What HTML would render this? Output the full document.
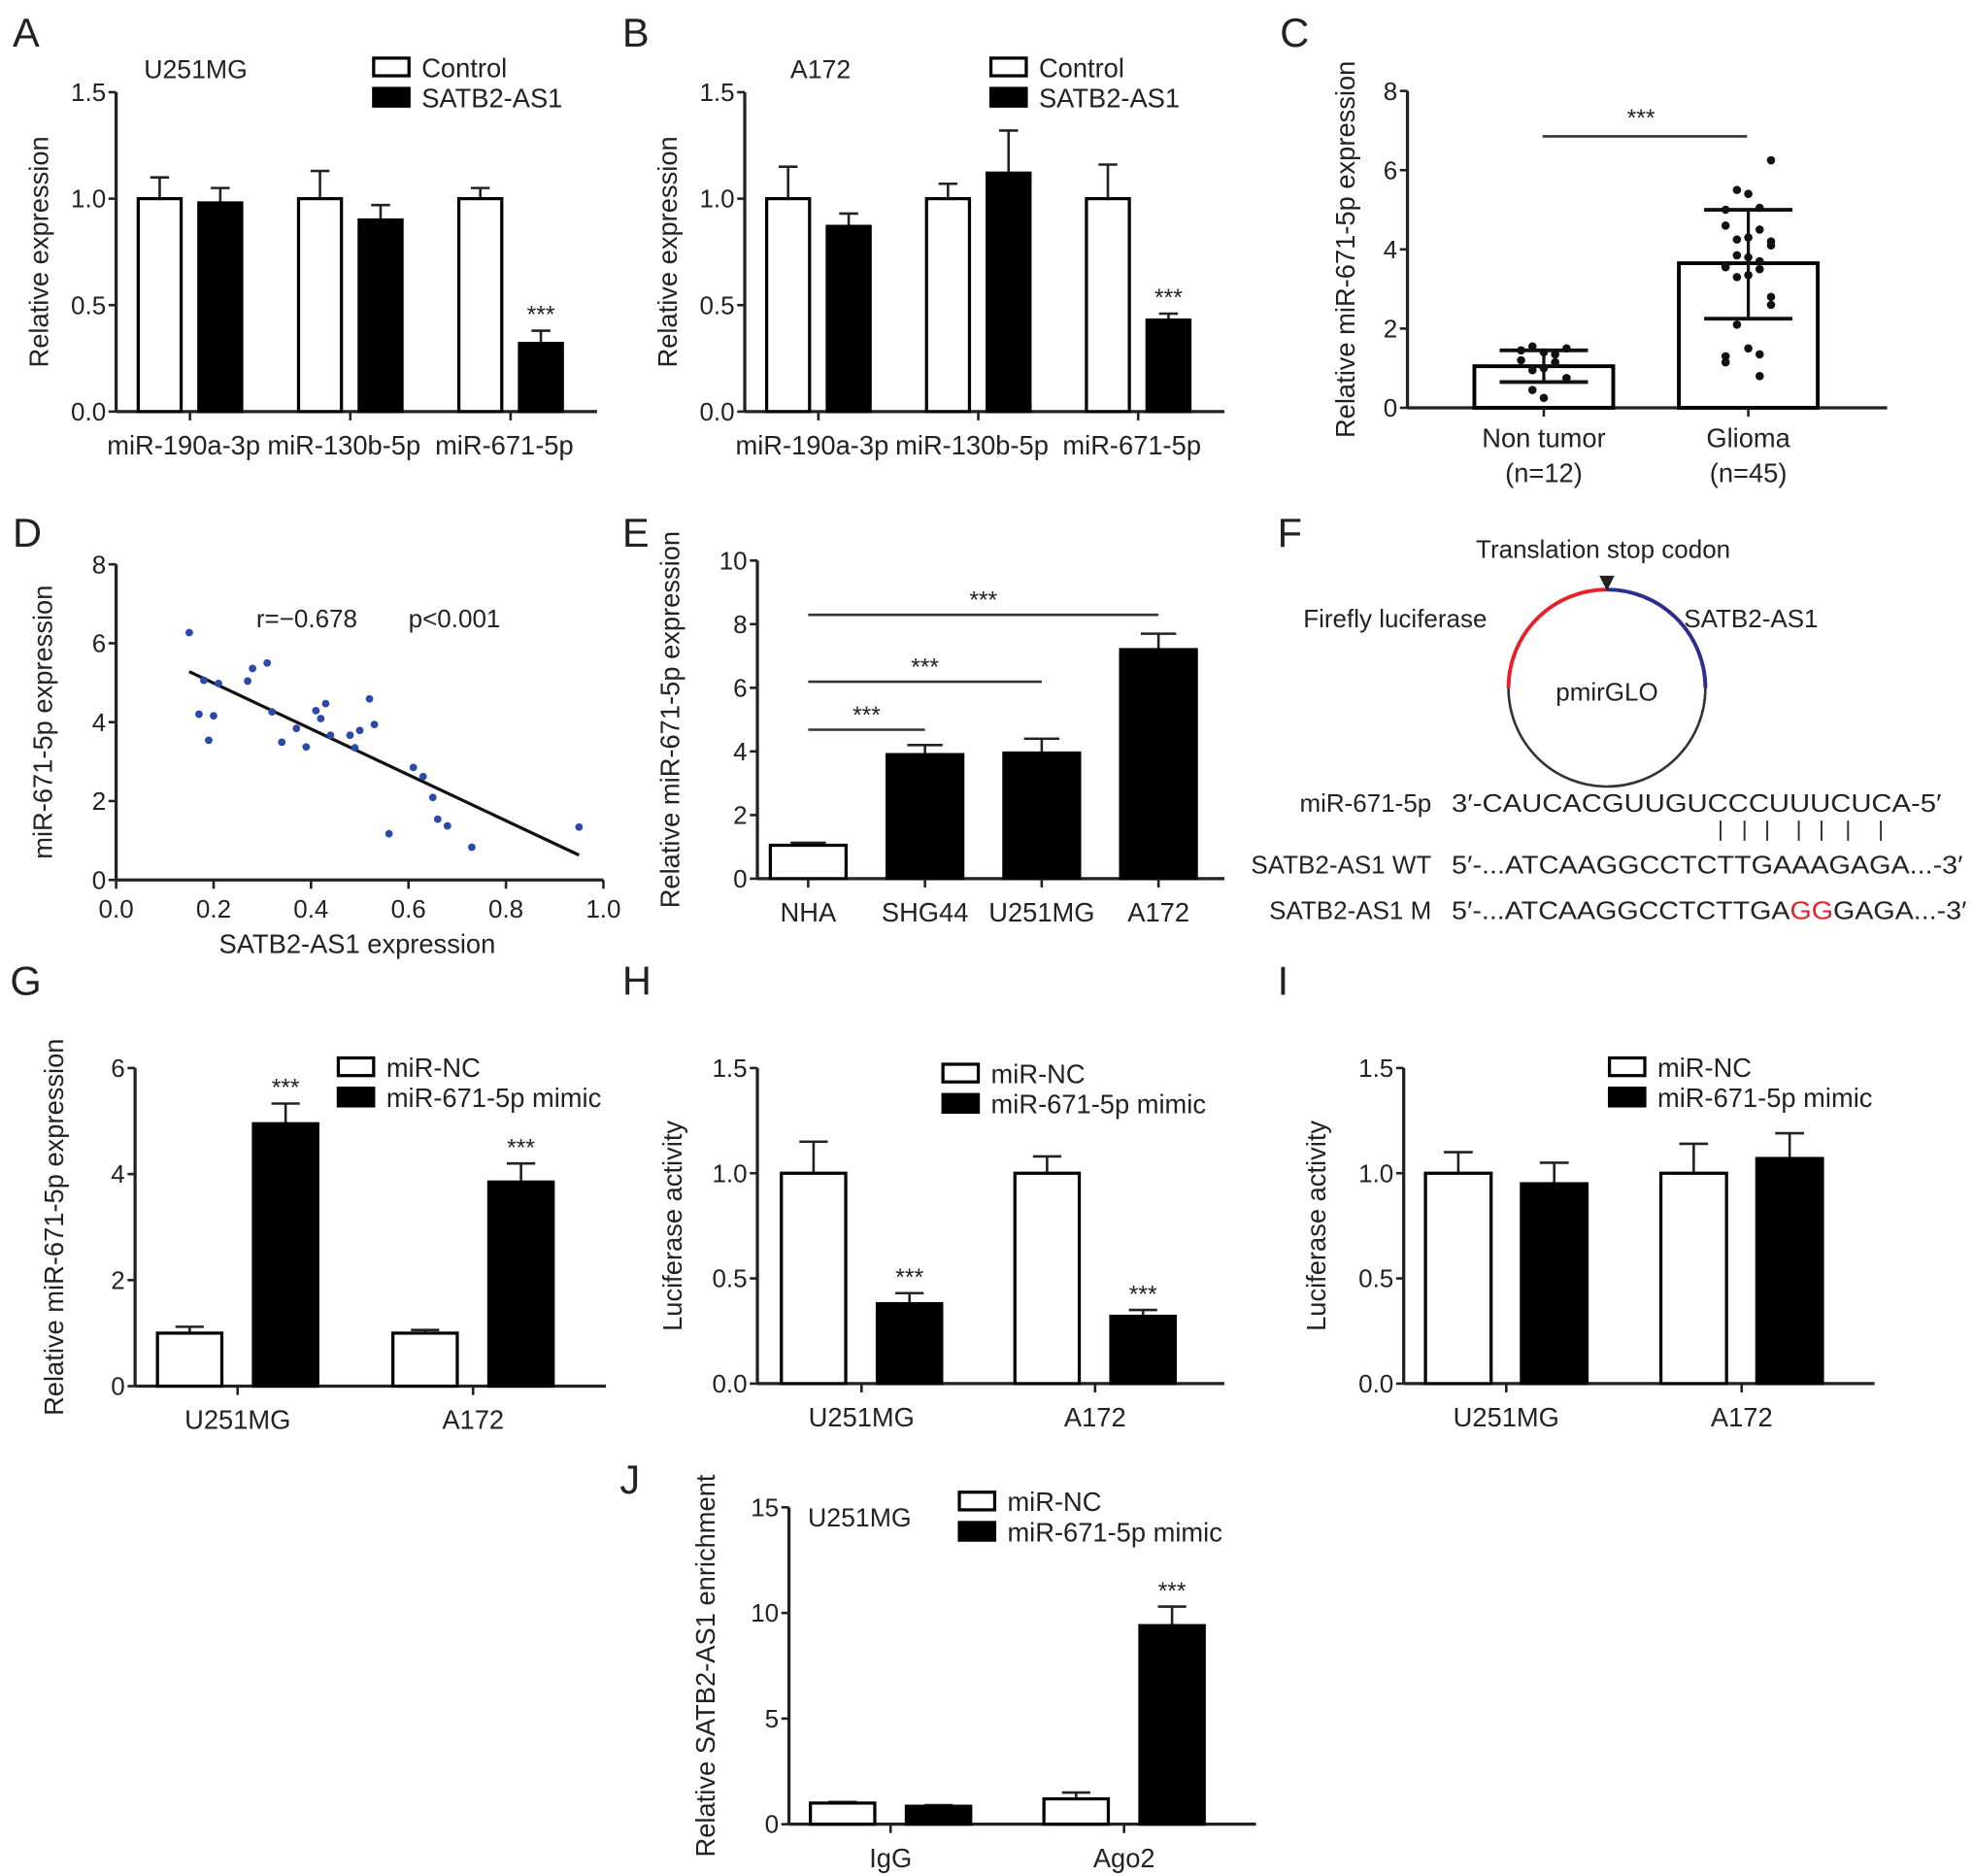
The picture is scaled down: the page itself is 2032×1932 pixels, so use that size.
<!DOCTYPE html>
<html><head><meta charset="utf-8"><style>
html,body{margin:0;padding:0;background:#fff;}
svg{display:block;font-family:"Liberation Sans",Arial,sans-serif;}
text{fill:#222;}
</style></head><body>
<svg id="fig" width="2032" height="1932" viewBox="0 0 1563 1486" xmlns="http://www.w3.org/2000/svg">
<g id="static" font-size="32">
<text x="10" y="37">A</text>
<text x="493" y="37">B</text>
<text x="1014" y="37">C</text>
<text x="10" y="433">D</text>
<text x="493" y="433">E</text>
<text x="1012" y="433">F</text>
<text x="8" y="788">G</text>
<text x="493" y="788">H</text>
<text x="1012" y="788">I</text>
<text x="491" y="1183">J</text>
</g>
<g id="panelF" font-size="20">
<text x="1270" y="442" text-anchor="middle">Translation stop codon</text>
<circle cx="1273" cy="545" r="78" fill="none" stroke="#333" stroke-width="2"/>
<path d="M1195 545 A78 78 0 0 1 1273 467" fill="none" stroke="#e8202a" stroke-width="3"/>
<path d="M1273 467 A78 78 0 0 1 1351 545" fill="none" stroke="#2b2e8f" stroke-width="3"/>
<path d="M1267 456 L1279 456 L1273 468 Z" fill="#222"/>
<text x="1178" y="497" text-anchor="end">Firefly luciferase</text>
<text x="1334" y="497">SATB2-AS1</text>
<text x="1273" y="555" text-anchor="middle">pmirGLO</text>
<text x="1134" y="643" text-anchor="end">miR-671-5p</text>
<text x="1150" y="643" textLength="388" lengthAdjust="spacingAndGlyphs">3′-CAUCACGUUGUCCCUUUCUCA-5′</text>
<g stroke="#333" stroke-width="1.5">
<line x1="1363" y1="650" x2="1363" y2="666"/><line x1="1382" y1="650" x2="1382" y2="666"/><line x1="1400" y1="650" x2="1400" y2="666"/><line x1="1425" y1="650" x2="1425" y2="666"/><line x1="1443" y1="650" x2="1443" y2="666"/><line x1="1464" y1="650" x2="1464" y2="666"/><line x1="1490" y1="650" x2="1490" y2="666"/>
</g>
<text x="1134" y="692" text-anchor="end">SATB2-AS1 WT</text>
<text x="1150" y="692" textLength="405" lengthAdjust="spacingAndGlyphs">5′-...ATCAAGGCCTCTTGAAAGAGA...-3′</text>
<text x="1134" y="728" text-anchor="end">SATB2-AS1 M</text>
<text x="1150" y="728" textLength="408" lengthAdjust="spacingAndGlyphs">5′-...ATCAAGGCCTCTTGA<tspan fill="#e8202a">GG</tspan>GAGA...-3′</text>
</g>
</svg>
<script>
// ---- data ----
const aCategories = ["miR-190a-3p","miR-130b-5p","miR-671-5p"];
const aControl = [1.0,1.0,1.0];
const aControlErr = [0.10,0.13,0.05];
const aSatb2 = [0.98,0.90,0.32];
const aSatb2Err = [0.07,0.07,0.06];
const aTicks = ["0.0","0.5","1.0","1.5"];
const bCategories = ["miR-190a-3p","miR-130b-5p","miR-671-5p"];
const bControl = [1.0,1.0,1.0];
const bControlErr = [0.15,0.07,0.16];
const bSatb2 = [0.87,1.12,0.43];
const bSatb2Err = [0.06,0.20,0.03];
const cCategories = ["Non tumor","Glioma"];
const cSub = ["(n=12)","(n=45)"];
const cMeans = [1.05,3.65];
const cLow = [0.65,2.25];
const cHigh = [1.45,5.0];
const cNonTumorDots = [1.5,1.55,1.4,1.35,1.45,1.2,1.15,1.0,0.95,0.75,0.75,0.45,0.25];
const cGliomaDots = [6.25,5.5,5.4,5.05,5.0,4.6,4.5,4.3,4.25,4.2,4.1,3.85,3.8,3.7,3.6,3.55,3.5,3.35,3.3,2.8,2.6,2.1,1.5,1.35,1.3,1.15,0.8];
const cTicks = ["0","2","4","6","8"];
const dX = [0.15,0.18,0.21,0.17,0.20,0.19,0.27,0.28,0.31,0.32,0.34,0.37,0.39,0.41,0.42,0.43,0.44,0.48,0.50,0.49,0.52,0.53,0.56,0.61,0.63,0.65,0.66,0.68,0.73,0.95];
const dY = [6.27,5.06,4.98,4.2,4.16,3.54,5.04,5.36,5.5,4.26,3.49,3.84,3.37,4.29,4.09,4.47,3.67,3.67,3.79,3.35,4.59,3.94,1.17,2.85,2.62,2.09,1.54,1.37,0.83,1.34];
const dFitX = [0.15,0.95];
const dFitY = [5.28,0.63];
const dXTicks = ["0.0","0.2","0.4","0.6","0.8","1.0"];
const dYTicks = ["0","2","4","6","8"];
const eCategories = ["NHA","SHG44","U251MG","A172"];
const eValues = [1.05,3.9,3.95,7.2];
const eErr = [0.08,0.3,0.45,0.5];
const eTicks = ["0","2","4","6","8","10"];
const gCategories = ["U251MG","A172"];
const gNC = [1.0,1.0];
const gNCErr = [0.12,0.06];
const gMimic = [4.95,3.85];
const gMimicErr = [0.38,0.35];
const gTicks = ["0","2","4","6"];
const hNC = [1.0,1.0];
const hNCErr = [0.15,0.08];
const hMimic = [0.38,0.32];
const hMimicErr = [0.05,0.03];
const iNC = [1.0,1.0];
const iNCErr = [0.10,0.14];
const iMimic = [0.95,1.07];
const iMimicErr = [0.10,0.12];
const lucTicks = ["0.0","0.5","1.0","1.5"];
const jCategories = ["IgG","Ago2"];
const jNC = [1.0,1.2];
const jNCErr = [0.05,0.3];
const jMimic = [0.85,9.4];
const jMimicErr = [0.05,0.9];
const jTicks = ["0","5","10","15"];

const NS="http://www.w3.org/2000/svg";
const svg=document.getElementById('fig');
function mk(tag,attrs,parent){const e=document.createElementNS(NS,tag);for(const k in attrs)e.setAttribute(k,attrs[k]);(parent||svg).appendChild(e);return e;}
function txt(s,x,y,size,anchor,parent,rot){const t=mk('text',{x:x,y:y,'font-size':size,'text-anchor':anchor||'middle'},parent);if(rot)t.setAttribute('transform','rotate(-90 '+x+' '+y+')');t.textContent=s;return t;}

function axes(g,c,ticks,title){
  const ys=v=>c.y0-(v/c.ymax)*(c.y0-c.yTop);
  const ax=mk('line',{x1:c.x0,y1:c.yTop,x2:c.x0,y2:c.y0,stroke:'#222','stroke-width':2.5},g);
  
  
  const bx=mk('line',{x1:c.x0,y1:c.y0,x2:c.x1,y2:c.y0,stroke:'#222','stroke-width':2.5},g);
  
  
  ticks.forEach(t=>{const v=parseFloat(t);const y=ys(v);
    mk('line',{x1:c.x0-6,y1:y,x2:c.x0,y2:y,stroke:'#222','stroke-width':2},g);
    const tl=txt(t,c.x0-8,y+7,20,'end',g);
    
    });
  const yt=txt(title,c.titleX,(c.yTop+c.y0)/2,21,'middle',g,true);
  
  
  return ys;
}
function errBar(g,x,y1,y2,w){mk('line',{x1:x,y1:y1,x2:x,y2:y2,stroke:'#222','stroke-width':2},g);mk('line',{x1:x-w,y1:y2,x2:x+w,y2:y2,stroke:'#222','stroke-width':2},g);}
function legend(g,x,y,labels,fs){
  labels.forEach((l,i)=>{const yy=y+i*24;
    const r=mk('rect',{x:x,y:yy-14,width:28,height:14,fill:i?'#000':'#fff',stroke:'#000','stroke-width':2.5},g);
    
    
    const t=txt(l,x+38,yy+1,fs||21,'start',g);
    
    });
}
function pairedChart(name,c,cats,s1,e1,s2,e2,ticks,title,stars){
  const g=mk('g',{});
  
  
  const ys=axes(g,c,ticks,title);
  const n=cats.length;const gw=(c.x1-c.x0)/n;
  cats.forEach((cat,i)=>{
    const cx=c.x0+gw*(i+0.5)+c.shift;
    mk('line',{x1:cx,y1:c.y0,x2:cx,y2:c.y0+7,stroke:'#222','stroke-width':2},g);
    [[s1,e1,'#fff',-1],[s2,e2,'#000',1]].forEach(([s,e,f,side])=>{
      const bxc=cx+side*c.off;const top=ys(s[i]);
      errBar(g,bxc,top,ys(s[i]+e[i]),c.bw*0.22);
      const r=mk('rect',{x:bxc-c.bw/2,y:top,width:c.bw,height:c.y0-top,fill:f,stroke:'#000','stroke-width':2.5},g);
      
      
      if(side>0&&stars[i]){const st=txt('***',bxc,ys(s[i]+e[i])-6,19,'middle',g);st.setAttribute('fill','#444');
        
        }
    });
    const lab=txt(cat,cx+c.labShift,c.y0+34,21,'middle',g);
    
    
  });
  return g;
}
// A
let g=pairedChart('panel-a-chart',{x0:92,x1:473,y0:326,yTop:73,ymax:1.5,off:24,bw:34,shift:-5,labShift:-5,titleX:38},aCategories,aControl,aControlErr,aSatb2,aSatb2Err,aTicks,'Relative expression',[0,0,1]);
txt('U251MG',155,62,20.5,'middle',g);legend(g,296,60,['Control','SATB2-AS1']);
// B
g=pairedChart('panel-b-chart',{x0:590,x1:970,y0:326,yTop:73,ymax:1.5,off:24,bw:34,shift:-5,labShift:-5,titleX:536},bCategories,bControl,bControlErr,bSatb2,bSatb2Err,aTicks,'Relative expression',[0,0,1]);
txt('A172',650,62,20.5,'middle',g);legend(g,785,60,['Control','SATB2-AS1']);
// G
g=pairedChart('panel-g-chart',{x0:107,x1:480,y0:1098,yTop:846,ymax:6,off:38,bw:51,shift:-12,labShift:0,titleX:50},gCategories,gNC,gNCErr,gMimic,gMimicErr,gTicks,'Relative miR-671-5p expression',[1,1]);
legend(g,268,852,['miR-NC','miR-671-5p mimic']);
// H
g=pairedChart('panel-h-chart',{x0:600,x1:970,y0:1096,yTop:846,ymax:1.5,off:38,bw:51,shift:-10,labShift:0,titleX:540},gCategories,hNC,hNCErr,hMimic,hMimicErr,lucTicks,'Luciferase activity',[1,1]);
legend(g,747,857,['miR-NC','miR-671-5p mimic']);
// I
g=pairedChart('panel-i-chart',{x0:1112,x1:1485,y0:1096,yTop:846,ymax:1.5,off:38,bw:52,shift:-12,labShift:0,titleX:1050},gCategories,iNC,iNCErr,iMimic,iMimicErr,lucTicks,'Luciferase activity',[0,0]);
legend(g,1275,852,['miR-NC','miR-671-5p mimic']);
// J
g=pairedChart('panel-j-chart',{x0:625,x1:995,y0:1445,yTop:1194,ymax:15,off:38,bw:51,shift:-12,labShift:0,titleX:566},jCategories,jNC,jNCErr,jMimic,jMimicErr,jTicks,'Relative SATB2-AS1 enrichment',[0,1]);
txt('U251MG',681,1209,20.5,'middle',g);legend(g,760,1196,['miR-NC','miR-671-5p mimic']);

// C
(function(){
  const c={x0:1115,x1:1495,y0:323,yTop:72,ymax:8,titleX:1073};
  const gc=mk('g',{});
  
  
  const ys=axes(gc,c,cTicks,'Relative miR-671-5p expression');
  const centers=[1223,1385];const bw=110;
  cCategories.forEach((cat,i)=>{const cx=centers[i];const top=ys(cMeans[i]);
    const r=mk('rect',{x:cx-bw/2,y:top,width:bw,height:c.y0-top,fill:'#fff',stroke:'#000','stroke-width':3},gc);
    
    
    mk('line',{x1:cx,y1:c.y0,x2:cx,y2:c.y0+7,stroke:'#222','stroke-width':2},gc);
    const l=txt(cat,cx,c.y0+31,21,'middle',gc);
    
    
    txt(cSub[i],cx,c.y0+59,21,'middle',gc);
  });
  [cNonTumorDots,cGliomaDots].forEach((arr,k)=>{const cx=centers[k];
    arr.forEach((v,j)=>{const dx=((j%5)-2)*9*(j%2?1:-1);
      const d=mk('circle',{cx:cx+dx,cy:ys(v),r:3.3,fill:'#111'},gc);
      
      });});
  centers.forEach((cx,i)=>{
    mk('line',{x1:cx,y1:ys(cLow[i]),x2:cx,y2:ys(cHigh[i]),stroke:'#111','stroke-width':2.5},gc);
    [cLow[i],cHigh[i]].forEach(v=>mk('line',{x1:cx-35,y1:ys(v),x2:cx+35,y2:ys(v),stroke:'#111','stroke-width':3},gc));
  });
  mk('line',{x1:1222,y1:108,x2:1384,y2:108,stroke:'#333','stroke-width':2},gc);
  const st=txt('***',1300,100,19,'middle',gc);st.setAttribute('fill','#444');
})();

// D
(function(){
  const x0=92,x1=478,y0=697,yTop=447;
  const gd=mk('g',{});
  
  
  const xs=v=>x0+v*(x1-x0);const ys=v=>y0-v/8*(y0-yTop);
  mk('line',{x1:x0,y1:yTop,x2:x0,y2:y0,stroke:'#222','stroke-width':2.5},gd);
  mk('line',{x1:x0,y1:y0,x2:x1,y2:y0,stroke:'#222','stroke-width':2.5},gd);
  dYTicks.forEach(t=>{const y=ys(parseFloat(t));mk('line',{x1:x0-6,y1:y,x2:x0,y2:y,stroke:'#222','stroke-width':2},gd);txt(t,x0-8,y+7,20,'end',gd);});
  dXTicks.forEach(t=>{const x=xs(parseFloat(t));mk('line',{x1:x,y1:y0,x2:x,y2:y0+7,stroke:'#222','stroke-width':2},gd);txt(t,x,y0+30,20,'middle',gd);});
  const yt=txt('miR-671-5p expression',41,572,21,'middle',gd,true);
  
  
  const xt=txt('SATB2-AS1 expression',283,755,21,'middle',gd);
  
  
  txt('r=−0.678',243,497,20,'middle',gd);txt('p<0.001',360,497,20,'middle',gd);
  const fit=mk('line',{x1:xs(dFitX[0]),y1:ys(dFitY[0]),x2:xs(dFitX[1]),y2:ys(dFitY[1]),stroke:'#111','stroke-width':2.5},gd);
  
  
  dX.forEach((x,i)=>{const p=mk('circle',{cx:xs(x),cy:ys(dY[i]),r:3,fill:'#2a4aa8'},gd);
    
    });
})();

// E
(function(){
  const c={x0:600,x1:970,y0:696,yTop:444,ymax:10,titleX:538};
  const ge=mk('g',{});
  
  
  const ys=axes(ge,c,eTicks,'Relative miR-671-5p expression');
  const gw=(c.x1-c.x0)/eCategories.length;const centers=[];
  eCategories.forEach((cat,i)=>{const cx=c.x0+gw*(i+0.5)-6;centers.push(cx);const top=ys(eValues[i]);
    errBar(ge,cx,top,ys(eValues[i]+eErr[i]),14);
    const r=mk('rect',{x:cx-30,y:top,width:60,height:c.y0-top,fill:i?'#000':'#fff',stroke:'#000','stroke-width':2.5},ge);
    
    
    mk('line',{x1:cx,y1:c.y0,x2:cx,y2:c.y0+7,stroke:'#222','stroke-width':2},ge);
    txt(cat,cx,c.y0+34,21,'middle',ge);
  });
  [[1,578],[2,540],[3,487]].forEach(([k,y])=>{
    mk('line',{x1:centers[0],y1:y,x2:centers[k],y2:y,stroke:'#333','stroke-width':2},ge);
    const st=txt('***',(centers[0]+centers[k])/2,y-5,19,'middle',ge);st.setAttribute('fill','#444');
  });
})();
</script>
</body></html>
